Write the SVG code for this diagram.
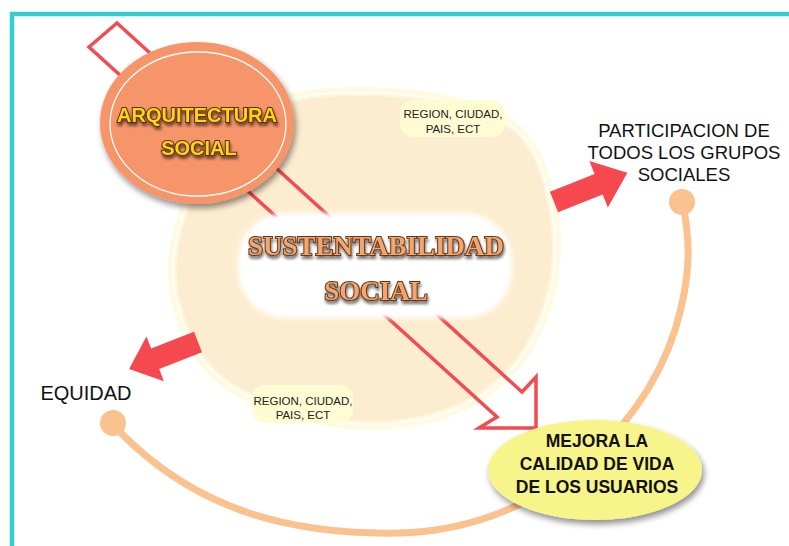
<svg xmlns="http://www.w3.org/2000/svg" width="789" height="546" viewBox="0 0 789 546">
<defs>
<style>
.lbl{font-family:"Liberation Sans",Arial,sans-serif;fill:#111;text-anchor:middle}
.reg{font-family:"Liberation Sans",Arial,sans-serif;font-size:11.5px;fill:#222;text-anchor:middle}
.bub{fill:#FFFBD2}
.red{fill:#F6494F}
.arq{font-family:"Liberation Sans",Arial,sans-serif;font-weight:bold;font-size:20px;fill:#FFD21C;stroke:#5A3300;stroke-width:2px;paint-order:stroke;text-anchor:middle}
.sus{font-family:"Liberation Serif","Times New Roman",serif;font-weight:bold;font-size:27px;fill:#F0A672;stroke:#6A3512;stroke-width:2px;paint-order:stroke;text-anchor:middle}
.mej{font-family:"Liberation Sans",Arial,sans-serif;font-weight:bold;font-size:17.5px;fill:#111;text-anchor:middle}
</style>
<path id="circ" d="M360,96 C393.3,95.7 441.7,100.7 470,110 C498.3,119.3 516.3,128.7 530,152 C543.7,175.3 552.3,218.7 552,250 C551.7,281.3 541.7,315.3 528,340 C514.3,364.7 494.7,384.5 470,398 C445.3,411.5 411.7,419.8 380,421 C348.3,422.2 308.3,414.7 280,405 C251.7,395.3 227.2,383.8 210,363 C192.8,342.2 179,308.8 177,280 C175,251.2 182.5,218 198,190 C213.5,162 243,127.7 270,112 C297,96.3 326.7,96.3 360,96 Z"/>
<filter id="shadow" x="-20%" y="-20%" width="140%" height="150%">
<feGaussianBlur in="SourceAlpha" stdDeviation="3"/>
<feOffset dx="2" dy="4" result="b"/>
<feComponentTransfer><feFuncA type="linear" slope="0.45"/></feComponentTransfer>
<feMerge><feMergeNode/><feMergeNode in="SourceGraphic"/></feMerge>
</filter>
<filter id="txtsh" x="-10%" y="-30%" width="120%" height="180%">
<feGaussianBlur in="SourceAlpha" stdDeviation="1.6"/>
<feOffset dx="1" dy="3"/>
<feComponentTransfer><feFuncA type="linear" slope="0.55"/></feComponentTransfer>
<feMerge><feMergeNode/><feMergeNode in="SourceGraphic"/></feMerge>
</filter>
<filter id="soft" x="-20%" y="-30%" width="140%" height="160%">
<feGaussianBlur stdDeviation="2.5"/>
</filter>
</defs>
<rect width="789" height="546" fill="#FFFFFF"/>
<path d="M12,546 V14 H789" fill="none" stroke="#35CDCD" stroke-width="4.5"/>

<g id="node-sustentabilidad-circle">
<use href="#circ" fill="none" stroke="#FFFBE2" stroke-width="18"/>
<use href="#circ" fill="none" stroke="#FFFFFF" stroke-width="8"/>
<use href="#circ" fill="none" stroke="#FEF7DC" stroke-width="5"/>
<use href="#circ" fill="#FDEDD0"/>
</g>

<g id="connectors">
<path d="M118,430 C200,515 300,535 400,533 C530,530 640,440 675,330 C692,275 690,240 683,205" fill="none" stroke="#F9C28F" stroke-width="7" stroke-linecap="round"/>
<circle cx="113" cy="423" r="13" fill="#F9C28F"/>
<circle cx="682" cy="202" r="13" fill="#F9C28F"/>
<polygon class="red" points="0,-11 48,-11 48,-25 79,0 48,25 48,11 0,11" transform="translate(554,202) rotate(-21.7)"/>
<polygon class="red" points="0,-11 46,-11 46,-24 74,0 46,24 46,11 0,11" transform="translate(198,342) rotate(158.6)"/>
<polygon points="89,47 117,23 522,392 536,377 536,428 479,428 497,417" fill="none" stroke="#F24B51" stroke-width="3.5" stroke-linejoin="miter"/>
</g>

<g id="node-sustentabilidad">
<rect x="238" y="213" width="274" height="105" rx="48" fill="#FFFFFF" filter="url(#soft)"/>
<rect x="242" y="217" width="266" height="97" rx="44" fill="#FFFFFF"/>
<g filter="url(#txtsh)">
<text class="sus" x="376" y="255">SUSTENTABILIDAD</text>
<text class="sus" x="376" y="300">SOCIAL</text>
</g>
</g>

<g id="node-arquitectura">
<ellipse cx="197" cy="123" rx="97" ry="81" fill="#F6946A" filter="url(#shadow)"/>
<ellipse cx="198" cy="124" rx="88" ry="72" fill="none" stroke="#FFFFFF" stroke-width="1.3"/>
<g filter="url(#txtsh)">
<text class="arq" x="197" y="122">ARQUITECTURA</text>
<text class="arq" x="199" y="155">SOCIAL</text>
</g>
</g>

<g id="node-region-top">
<rect class="bub" x="400" y="100" width="105" height="37" rx="13"/>
<text class="reg" x="453" y="118">REGION, CIUDAD,</text>
<text class="reg" x="453" y="133">PAIS, ECT</text>
</g>

<g id="node-region-bottom">
<rect class="bub" x="252" y="385" width="101" height="38" rx="13"/>
<text class="reg" x="303" y="405">REGION, CIUDAD,</text>
<text class="reg" x="303" y="419">PAIS, ECT</text>
</g>

<g id="node-participacion">
<text class="lbl" x="684" y="137" font-size="18.5">PARTICIPACION DE</text>
<text class="lbl" x="684" y="159" font-size="18.5">TODOS LOS GRUPOS</text>
<text class="lbl" x="684" y="181" font-size="18.5">SOCIALES</text>
</g>

<g id="node-equidad">
<text class="lbl" x="86" y="400" font-size="20">EQUIDAD</text>
</g>

<g id="node-mejora">
<ellipse cx="595" cy="470" rx="107" ry="50" fill="#F7F48A" filter="url(#shadow)"/>
<text class="mej" x="597" y="447">MEJORA LA</text>
<text class="mej" x="597" y="470">CALIDAD DE VIDA</text>
<text class="mej" x="597" y="493">DE LOS USUARIOS</text>
</g>
</svg>
